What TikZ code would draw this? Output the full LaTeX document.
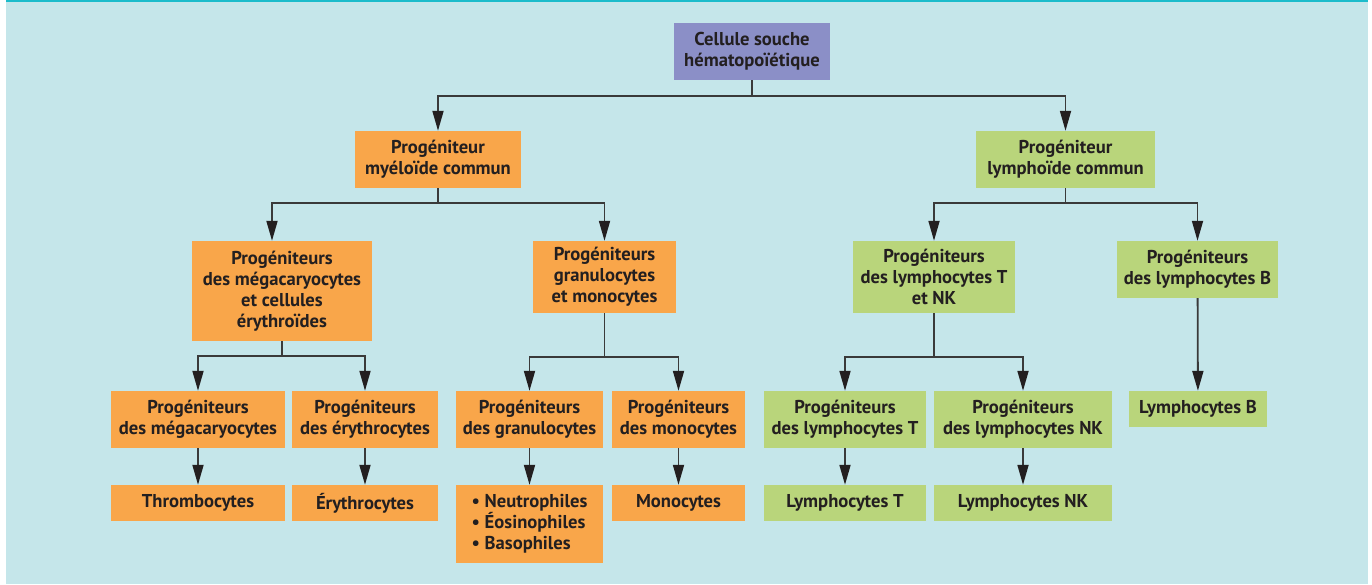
\documentclass[tikz,border=0pt]{standalone}
\usepackage{fontspec}
\setmainfont{PT Sans}
\usetikzlibrary{arrows.meta}
\definecolor{fondbleu}{HTML}{C5E6EA}
\definecolor{filetbleu}{HTML}{1CBCCB}
\definecolor{violetcell}{HTML}{8B8FC7}
\definecolor{orangecell}{HTML}{F9A64A}
\definecolor{vertcell}{HTML}{B9D57B}
\definecolor{textenoir}{HTML}{231F20}
\definecolor{traitgris}{HTML}{3A3A3A}
\tikzset{
  cellule/.style={font=\bfseries\fontsize{18.6}{21}\selectfont, text=textenoir, align=center, inner sep=0pt},
  souchebox/.style={cellule, fill=violetcell},
  myelobox/.style={cellule, fill=orangecell},
  lymphobox/.style={cellule, fill=vertcell},
  trait/.style={draw=traitgris, line width=1.8pt},
  fleche/.style={trait, -{Triangle[length=20pt,width=11pt,color=textenoir]}},
}
\begin{document}
\begin{tikzpicture}[x=1pt,y=-1pt]
    \useasboundingbox (0,0) rectangle (1372,584);
    % Fond
    \fill[fondbleu] (6,0) rectangle (1368,584);
    \fill[filetbleu] (6,0) rectangle (1368,1.5);

    % Cellule souche
    \node[souchebox, minimum width=156pt, minimum height=57pt] (souche) at (752,51.5) {Cellule souche\\hématopoïétique};

    % Progeniteurs communs
    \node[myelobox, minimum width=166pt, minimum height=57pt] (pmc) at (438,159.5) {Progéniteur\\myéloïde commun};
    \node[lymphobox, minimum width=179pt, minimum height=57pt] (plc) at (1065.5,159.5) {Progéniteur\\lymphoïde commun};

    % Deuxieme niveau
    \node[myelobox, minimum width=180pt, minimum height=100pt] (pme) at (282,291) {Progéniteurs\\des mégacaryocytes\\et cellules\\érythroïdes};
    \node[myelobox, minimum width=143pt, minimum height=72pt] (pgm) at (604.5,277) {Progéniteurs\\granulocytes\\et monocytes};
    \node[lymphobox, minimum width=162pt, minimum height=72pt] (ptnk) at (934,277) {Progéniteurs\\des lymphocytes T\\et NK};
    \node[lymphobox, minimum width=161pt, minimum height=57pt] (plb) at (1197.5,269.5) {Progéniteurs\\des lymphocytes B};

    % Troisieme niveau
    \node[myelobox, minimum width=174pt, minimum height=57pt] (pmega) at (198,419.5) {Progéniteurs\\des mégacaryocytes};
    \node[myelobox, minimum width=146pt, minimum height=57pt] (pery) at (365,419.5) {Progéniteurs\\des érythrocytes};
    \node[myelobox, minimum width=147pt, minimum height=57pt] (pgran) at (529.5,419.5) {Progéniteurs\\des granulocytes};
    \node[myelobox, minimum width=133pt, minimum height=57pt] (pmono) at (678.5,419.5) {Progéniteurs\\des monocytes};
    \node[lymphobox, minimum width=162pt, minimum height=57pt] (plt) at (845,419.5) {Progéniteurs\\des lymphocytes T};
    \node[lymphobox, minimum width=178pt, minimum height=57pt] (plnk) at (1023,419.5) {Progéniteurs\\des lymphocytes NK};
    \node[lymphobox, minimum width=138pt, minimum height=36pt] (lb) at (1198,409) {Lymphocytes B};

    % Cellules matures
    \node[myelobox, minimum width=174pt, minimum height=36pt] (thrombo) at (198,503) {Thrombocytes};
    \node[myelobox, minimum width=146pt, minimum height=36pt] (ery) at (365,503) {Érythrocytes};
    \node[myelobox, minimum width=147pt, minimum height=78pt, align=left] (gran) at (529.5,524) {• Neutrophiles\\• Éosinophiles\\• Basophiles};
    \node[myelobox, minimum width=133pt, minimum height=36pt] (mono) at (678.5,503) {Monocytes};
    \node[lymphobox, minimum width=162pt, minimum height=36pt] (lt) at (845,503) {Lymphocytes T};
    \node[lymphobox, minimum width=178pt, minimum height=36pt] (lnk) at (1023,503) {Lymphocytes NK};

    % Points de branchement
    \coordinate (b0) at (752,96);
    \coordinate (b1) at (438,203);
    \coordinate (b2) at (1065.5,203);
    \coordinate (b3) at (282,356);
    \coordinate (b4) at (604.5,357);
    \coordinate (b5) at (934,357);

    % Liaisons
    \draw[trait] (souche) -- (b0);
    \draw[fleche] (b0) -| (pmc.north);
    \draw[fleche] (b0) -| (plc.north);
    \draw[trait] (pmc) -- (b1);
    \draw[fleche] (b1) -| ([xshift=-10pt]pme.north);
    \draw[fleche] (b1) -| (pgm.north);
    \draw[trait] (plc) -- (b2);
    \draw[fleche] (b2) -| (ptnk.north);
    \draw[fleche] (b2) -| (plb.north);
    \draw[trait] (pme) -- (b3);
    \draw[fleche] (b3) -| (pmega.north);
    \draw[fleche] (b3) -| (pery.north);
    \draw[trait] (pgm) -- (b4);
    \draw[fleche] (b4) -| (pgran.north);
    \draw[fleche] (b4) -| (pmono.north);
    \draw[trait] (ptnk) -- (b5);
    \draw[fleche] (b5) -| (plt.north);
    \draw[fleche] (b5) -| (plnk.north);
    \draw[fleche] (plb) -- (lb);
    \draw[fleche] (pmega) -- (thrombo);
    \draw[fleche] (pery) -- (ery);
    \draw[fleche] (pgran) -- (gran);
    \draw[fleche] (pmono) -- (mono);
    \draw[fleche] (plt) -- (lt);
    \draw[fleche] (plnk) -- (lnk);
\end{tikzpicture}
\end{document}
